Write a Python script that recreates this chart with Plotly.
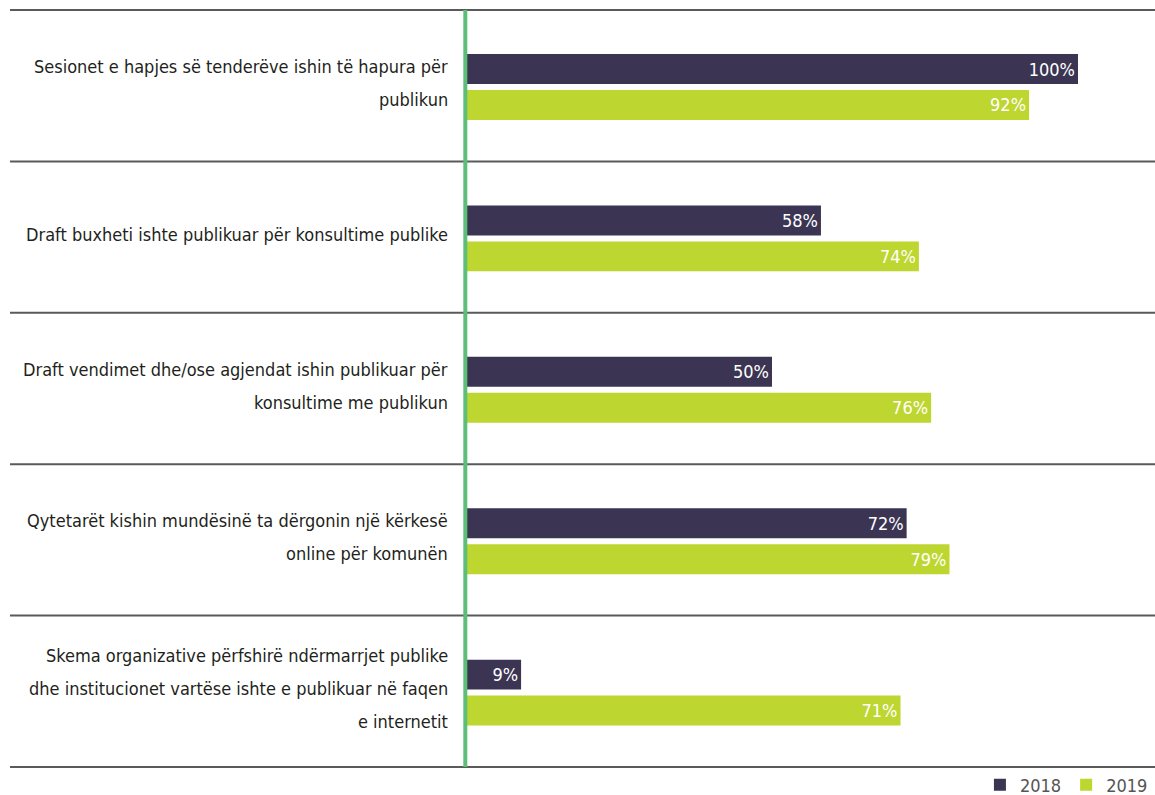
import plotly.graph_objects as go

categories = [
    "Sesionet e hapjes së tenderëve ishin të hapura për<br>publikun",
    "Draft buxheti ishte publikuar për konsultime publike",
    "Draft vendimet dhe/ose agjendat ishin publikuar për<br>konsultime me publikun",
    "Qytetarët kishin mundësinë ta dërgonin një kërkesë<br>online për komunën",
    "Skema organizative përfshirë ndërmarrjet publike<br>dhe institucionet vartëse ishte e publikuar në faqen<br>e internetit",
]
values_2018 = [100, 58, 50, 72, 9]
values_2019 = [92, 74, 76, 79, 71]

DARK = "#3b3553"
LIME = "#bed630"
FONT = "DejaVu Sans Condensed, Liberation Sans Narrow, sans-serif"

W, H = 1155, 795
left, top, bottom = 466, 10, 28
px_per_pct = 6.12
x_max = (W - left) / px_per_pct
n_cat = len(categories)
shift = 0.0086  # bars sit a touch below the middle of each band

idx = list(range(n_cat))

fig = go.Figure()
for name, vals, col in [("2018", values_2018, DARK), ("2019", values_2019, LIME)]:
    fig.add_trace(go.Bar(
        y=idx, x=vals, name=name, orientation="h",
        marker=dict(color=col, line=dict(width=0)),
        text=[f"{v}%" for v in vals], textposition="inside",
        insidetextanchor="end", textangle=0,
        textfont=dict(color="white", size=18, family=FONT),
        hoverinfo="skip",
    ))

shapes = []
# horizontal separators (paper coords so they stay on the band edges)
for k in range(n_cat + 1):
    shapes.append(dict(type="line", xref="paper", yref="paper",
                       x0=(10 - left) / (W - left), x1=1,
                       y0=k / n_cat, y1=k / n_cat,
                       line=dict(color="#5a5a5a", width=2)))
# green vertical axis line
shapes.append(dict(type="line", xref="paper", yref="paper",
                   x0=-0.001, x1=-0.001, y0=0, y1=1,
                   line=dict(color="#5bbf78", width=4)))

annotations = []
for i, lab in enumerate(categories):
    lines = lab.split("<br>")
    n = len(lines)
    for j, ln in enumerate(lines):
        annotations.append(dict(
            xref="paper", yref="y", x=(450 - left) / (W - left), y=i,
            text=ln, showarrow=False, xanchor="right", yanchor="middle",
            yshift=-((j - (n - 1) / 2) * 33) + 4,
            font=dict(size=18, color="#231f20", family=FONT),
        ))

fig.update_layout(
    width=W, height=H,
    margin=dict(l=left, r=0, t=top, b=bottom, pad=0, autoexpand=False),
    plot_bgcolor="white", paper_bgcolor="white",
    barmode="group", bargap=0.525, bargroupgap=0.167,
    xaxis=dict(range=[0, x_max], visible=False, fixedrange=True),
    yaxis=dict(range=[n_cat - 0.5 - shift, -0.5 - shift], visible=False, fixedrange=True),
    shapes=shapes, annotations=annotations,
    showlegend=True,
    legend=dict(orientation="h", x=0.997, xanchor="right",
                yref="container", y=(H - 785) / H, yanchor="middle",
                font=dict(size=18, color="#555555", family=FONT),
                itemwidth=30, traceorder="normal", bgcolor="rgba(0,0,0,0)"),
    uniformtext=dict(minsize=18, mode="show"),
)

fig.write_html("out.html", config={"displayModeBar": False},
               post_script="document.body.style.margin='0';document.body.style.overflow='hidden';")
